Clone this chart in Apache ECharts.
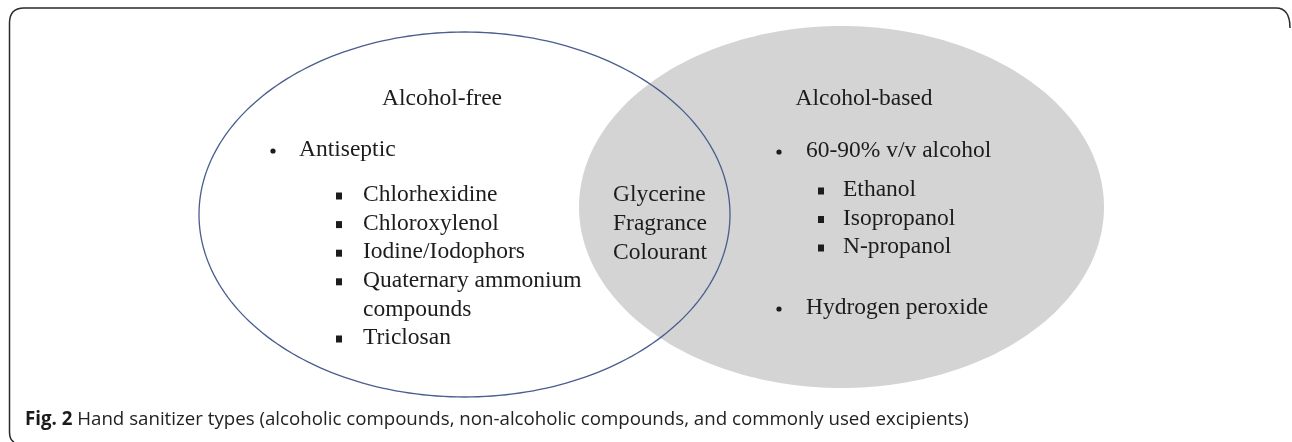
<!DOCTYPE html>
<html>
<head>
<meta charset="utf-8">
<script src="https://cdn.jsdelivr.net/npm/echarts@6/dist/echarts.min.js"></script>
<style>
  html, body { margin: 0; padding: 0; background: #ffffff; }
  #chart { width: 1292px; height: 442px; }
</style>
</head>
<body>
<div id="chart"></div>
<script>
// ---------- DATA ----------
const setTitles = ['Alcohol-free', 'Alcohol-based'];
const alcoholFreeBullets = ['Antiseptic'];
const alcoholFreeItems = ['Chlorhexidine', 'Chloroxylenol', 'Iodine/Iodophors', 'Quaternary ammonium\ncompounds', 'Triclosan'];
const sharedItems = ['Glycerine', 'Fragrance', 'Colourant'];
const alcoholBasedBullets = ['60-90% v/v alcohol', 'Hydrogen peroxide'];
const alcoholBasedItems = ['Ethanol', 'Isopropanol', 'N-propanol'];
const captionBold = 'Fig. 2';
const captionText = ' Hand sanitizer types (alcoholic compounds, non-alcoholic compounds, and commonly used excipients)';

// ---------- LAYOUT (pixel-like coordinate space) ----------
const W = 1292, H = 442;
const ellipses = {
  left:  { cx: 464.5, cy: 214.5, rx: 265.5, ry: 182.5 },
  right: { cx: 841.5, cy: 207,   rx: 262.5, ry: 181 }
};
const serif = '"Liberation Serif", "Times New Roman", serif';
const textColor = '#1c1c1c';
const fs = 23.5;

// Build text rows
const rows = [];
rows.push({ x: 442, y: 99, text: setTitles[0], align: 'center' });
rows.push({ x: 864, y: 99, text: setTitles[1], align: 'center' });
alcoholFreeBullets.forEach((t) => rows.push({ x: 299, y: 150, text: t, align: 'left', marker: 'dot', mx: 273 }));
let ly = 195;
const lstep = 28.6;
alcoholFreeItems.forEach((t) => {
  const lines = t.split('\n');
  lines.forEach((ln, j) => {
    rows.push({ x: 363, y: ly, text: ln, align: 'left', marker: j === 0 ? 'sq' : null, mx: 339 });
    ly += lstep;
  });
});
sharedItems.forEach((t, i) => rows.push({ x: 613, y: 195 + i * 29, text: t, align: 'left' }));
alcoholBasedBullets.forEach((t, i) => rows.push({ x: 806, y: i === 0 ? 151 : 308, text: t, align: 'left', marker: 'dot', mx: 779 }));
alcoholBasedItems.forEach((t, i) => rows.push({ x: 843, y: 190 + i * 28.5, text: t, align: 'left', marker: 'sq', mx: 821 }));

function ellipsePoints(api, e) {
  const pts = [];
  const n = 240;
  for (let k = 0; k < n; k++) {
    const a = (k / n) * Math.PI * 2;
    pts.push(api.coord([e.cx + e.rx * Math.cos(a), e.cy + e.ry * Math.sin(a)]));
  }
  return pts;
}

const chart = echarts.init(document.getElementById('chart'), null, { renderer: 'canvas' });

const option = {
  backgroundColor: '#ffffff',
  animation: false,
  grid: { left: 0, right: 0, top: 0, bottom: 0 },
  xAxis: { type: 'value', min: 0, max: W, show: false },
  yAxis: { type: 'value', min: 0, max: H, inverse: true, show: false },
  graphic: [
    {
      type: 'text',
      silent: true,
      z: 100,
      left: 25,
      top: 410,
      style: {
        text: '{b|' + captionBold + '}{r|' + captionText + '}',
        rich: {
          b: { fontFamily: '"Open Sans", sans-serif', fontWeight: 'bold', fontSize: 18.7, fill: '#1a1a1a' },
          r: { fontFamily: '"Open Sans", sans-serif', fontWeight: 'normal', fontSize: 18.7, fill: '#222' }
        }
      }
    }
  ],
  series: [
    {
      type: 'custom',
      coordinateSystem: 'cartesian2d',
      silent: true,
      data: [
        ['left', 'fill'],
        ['right', 'fill'],
        ['left', 'stroke']
      ],
      renderItem: function (params, api) {
        const key = params.dataIndex === 1 ? 'right' : 'left';
        const e = ellipses[key];
        let style;
        if (params.dataIndex === 0) style = { fill: '#ffffff', stroke: null };
        else if (params.dataIndex === 1) style = { fill: '#d4d4d4', stroke: null };
        else style = { fill: null, stroke: '#4a5d8e', lineWidth: 1.3 };
        return {
          type: 'polygon',
          z2: params.dataIndex,
          shape: { points: ellipsePoints(api, e) },
          style: style
        };
      }
    },
    {
      type: 'custom',
      coordinateSystem: 'cartesian2d',
      silent: true,
      z: 5,
      data: rows.map((r, i) => [r.x, r.y, i]),
      renderItem: function (params, api) {
        const r = rows[params.dataIndex];
        const p = api.coord([r.x, r.y]);
        const children = [{
          type: 'text',
          style: {
            text: r.text,
            x: p[0], y: p[1],
            align: r.align,
            verticalAlign: 'middle',
            font: fs + 'px ' + serif,
            fill: textColor
          }
        }];
        if (r.marker) {
          const m = api.coord([r.mx, r.y]);
          if (r.marker === 'dot') {
            children.push({ type: 'circle', shape: { cx: m[0], cy: m[1] + 1, r: 2.6 }, style: { fill: textColor } });
          } else {
            children.push({ type: 'rect', shape: { x: m[0] - 3, y: m[1] - 2.5, width: 6, height: 7 }, style: { fill: textColor } });
          }
        }
        return { type: 'group', children: children };
      }
    },
    {
      type: 'custom',
      coordinateSystem: 'cartesian2d',
      silent: true,
      z: 10,
      data: [[0, 0]],
      renderItem: function (params, api) {
        const a = api.coord([1290, 28]), b = api.coord([1290, 8]), c = api.coord([1276, 8]);
        const d = api.coord([24, 8]), e = api.coord([9.5, 8]), f = api.coord([9.5, 23]);
        const g = api.coord([9.5, 432]), h = api.coord([9.5, 440]), k = api.coord([14, 442]);
        const pd = 'M' + a + 'Q' + b + ' ' + c + 'L' + d + 'Q' + e + ' ' + f + 'L' + g + 'Q' + h + ' ' + k;
        return {
          type: 'path',
          shape: { pathData: pd.replace(/,/g, ' ') },
          style: { fill: null, stroke: '#2a2a2a', lineWidth: 1.5 }
        };
      }
    }
  ]
};
chart.setOption(option);
</script>
</body>
</html>
